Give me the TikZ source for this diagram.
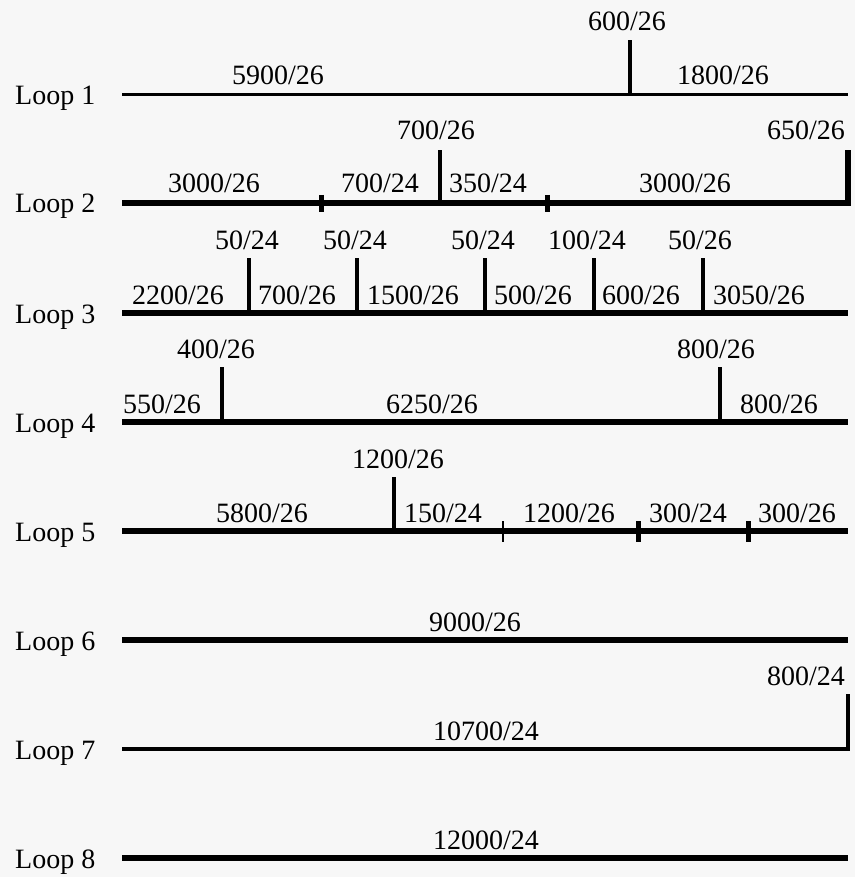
\documentclass[tikz,border=0pt]{standalone}
\usepackage{fontspec}
\setmainfont{Liberation Serif}
\begin{document}
\begin{tikzpicture}[x=1pt,y=-1pt,
  thinline/.style={line width=3pt},
  midline/.style={line width=3.6pt},
  thickline/.style={line width=5.3pt},
  thinbranch/.style={line width=3.2pt},
  thickbranch/.style={line width=4.8pt},
  thintick/.style={line width=2.2pt},
  thicktick/.style={line width=5pt},
  lbl/.style={anchor=base,inner sep=0pt,font=\fontsize{28}{30}\selectfont},
  looplbl/.style={anchor=base west,inner sep=0pt,font=\fontsize{28}{30}\selectfont}]
\fill[gray!6] (0,0) rectangle (855,877);
\useasboundingbox (0,0) rectangle (855,877);

% ---------- Loop 1 ----------
\node[looplbl] (n1) at (15,105) {Loop 1};
\coordinate (a1) at (122,95); \coordinate (b1) at (848,95);
\coordinate (j1) at (630,95); \coordinate (t1) at (630,40);
\draw[thinline] (a1) -- (b1);
\draw[thinbranch] (j1) -- (t1);
\node[lbl] (l1a) at (278,85) {5900/26};
\node[lbl] (l1b) at (723,85) {1800/26};
\node[lbl] (l1c) at (627,31) {600/26};

% ---------- Loop 2 ----------
\node[looplbl] (n2) at (15,213) {Loop 2};
\coordinate (a2) at (122,203); \coordinate (b2) at (848,203);
\coordinate (t2r) at (848,150);
\coordinate (j2) at (440,203); \coordinate (t2) at (440,150);
\coordinate (k2a) at (321,195); \coordinate (k2b) at (321,212);
\coordinate (k2c) at (547,195); \coordinate (k2d) at (547,212);
\draw[thickline] (a2) -- (b2) -- (t2r);
\draw[thickbranch] (j2) -- (t2);
\draw[thicktick] (k2a) -- (k2b);
\draw[thicktick] (k2c) -- (k2d);
\node[lbl] (l2a) at (214,193) {3000/26};
\node[lbl] (l2b) at (380,193) {700/24};
\node[lbl] (l2c) at (488,193) {350/24};
\node[lbl] (l2d) at (685,193) {3000/26};
\node[lbl] (l2e) at (436,140) {700/26};
\node[lbl] (l2f) at (806,140) {650/26};

% ---------- Loop 3 ----------
\node[looplbl] (n3) at (15,323) {Loop 3};
\coordinate (a3) at (122,313); \coordinate (b3) at (848,313);
\draw[thickline] (a3) -- (b3);
\foreach \x/\nm in {249/p,357/q,485/r,594/s,703/t}{
  \coordinate (j3\nm) at (\x,313); \coordinate (t3\nm) at (\x,258);
  \draw[thickbranch] (j3\nm) -- (t3\nm);
}
\node[lbl] (l3a) at (247,249) {50/24};
\node[lbl] (l3b) at (355,249) {50/24};
\node[lbl] (l3c) at (483,249) {50/24};
\node[lbl] (l3d) at (587,249) {100/24};
\node[lbl] (l3e) at (700,249) {50/26};
\node[lbl] (l3f) at (178,304) {2200/26};
\node[lbl] (l3g) at (297,304) {700/26};
\node[lbl] (l3h) at (413,304) {1500/26};
\node[lbl] (l3i) at (533,304) {500/26};
\node[lbl] (l3j) at (641,304) {600/26};
\node[lbl] (l3k) at (759,304) {3050/26};

% ---------- Loop 4 ----------
\node[looplbl] (n4) at (15,432) {Loop 4};
\coordinate (a4) at (122,422); \coordinate (b4) at (848,422);
\coordinate (j4a) at (222,422); \coordinate (t4a) at (222,367);
\coordinate (j4b) at (720,422); \coordinate (t4b) at (720,367);
\draw[thickline] (a4) -- (b4);
\draw[thickbranch] (j4a) -- (t4a);
\draw[thickbranch] (j4b) -- (t4b);
\node[lbl] (l4a) at (216,358) {400/26};
\node[lbl] (l4b) at (716,358) {800/26};
\node[lbl] (l4c) at (162,413) {550/26};
\node[lbl] (l4d) at (432,413) {6250/26};
\node[lbl] (l4e) at (779,413) {800/26};

% ---------- Loop 5 ----------
\node[looplbl] (n5) at (15,541) {Loop 5};
\coordinate (a5) at (122,531); \coordinate (b5) at (848,531);
\coordinate (j5) at (394,531); \coordinate (t5) at (394,477);
\coordinate (k5a) at (503,521); \coordinate (k5b) at (503,542);
\coordinate (k5c) at (638,521); \coordinate (k5d) at (638,542);
\coordinate (k5e) at (748,521); \coordinate (k5f) at (748,542);
\draw[thickline] (a5) -- (b5);
\draw[thinbranch] (j5) -- (t5);
\draw[thintick] (k5a) -- (k5b);
\draw[thicktick] (k5c) -- (k5d);
\draw[thicktick] (k5e) -- (k5f);
\node[lbl] (l5a) at (398,468) {1200/26};
\node[lbl] (l5b) at (262,522) {5800/26};
\node[lbl] (l5c) at (443,522) {150/24};
\node[lbl] (l5d) at (569,522) {1200/26};
\node[lbl] (l5e) at (688,522) {300/24};
\node[lbl] (l5f) at (797,522) {300/26};

% ---------- Loop 6 ----------
\node[looplbl] (n6) at (15,650) {Loop 6};
\coordinate (a6) at (122,640); \coordinate (b6) at (848,640);
\draw[thickline] (a6) -- (b6);
\node[lbl] (l6a) at (475,631) {9000/26};

% ---------- Loop 7 ----------
\node[looplbl] (n7) at (15,759) {Loop 7};
\coordinate (a7) at (122,749); \coordinate (b7) at (848,749);
\coordinate (t7) at (848,694);
\draw[midline] (a7) -- (b7) -- (t7);
\node[lbl] (l7a) at (486,740) {10700/24};
\node[lbl] (l7b) at (806,685) {800/24};

% ---------- Loop 8 ----------
\node[looplbl] (n8) at (15,868) {Loop 8};
\coordinate (a8) at (122,858); \coordinate (b8) at (848,858);
\draw[thickline] (a8) -- (b8);
\node[lbl] (l8a) at (486,849) {12000/24};
\end{tikzpicture}
\end{document}
